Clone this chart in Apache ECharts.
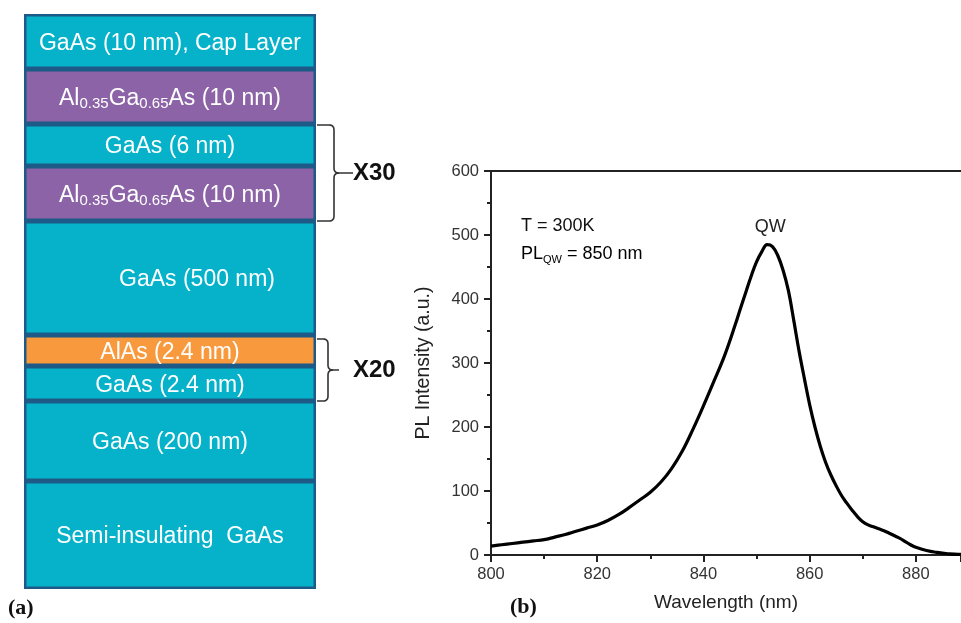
<!DOCTYPE html>
<html>
<head>
<meta charset="utf-8">
<script src="https://cdn.jsdelivr.net/npm/echarts@6/dist/echarts.min.js"></script>
<style>
  html, body { margin: 0; padding: 0; background: #fff; }
  #chart { width: 961px; height: 623px; }
</style>
</head>
<body>
<div id="chart"></div>
<script>
// ---------- (a) layer stack ----------
const layerLabels = [
  'GaAs (10 nm), Cap Layer',
  'Al_{0.35}Ga_{0.65}As (10 nm)',
  'GaAs (6 nm)',
  'Al_{0.35}Ga_{0.65}As (10 nm)',
  'GaAs (500 nm)',
  'AlAs (2.4 nm)',
  'GaAs (2.4 nm)',
  'GaAs (200 nm)',
  'Semi-insulating  GaAs'
];
const layerMaterials = ['GaAs', 'AlGaAs', 'GaAs', 'AlGaAs', 'GaAs', 'AlAs', 'GaAs', 'GaAs', 'GaAs'];
// drawn (schematic) thickness of each layer in the stack diagram
const layerDrawHeights = [55, 55, 42, 55, 114, 31, 35, 80, 108];
const repeatGroups = [
  { first: 2, last: 3, label: 'X30' },
  { first: 5, last: 6, label: 'X20' }
];

// ---------- (b) PL spectrum ----------
const wavelengths = [800, 802, 804, 806, 808, 810, 812, 814, 816, 818, 820, 822, 824, 826, 828, 830, 832, 834, 836, 838,
  840, 842, 844, 846, 847, 848, 849, 850, 851, 852, 853, 854, 855, 856, 857, 858, 859, 860, 861, 862, 863, 864, 865, 866,
  867, 868, 869, 870, 871, 872, 873, 874, 875, 876, 877, 878, 879, 880, 882, 884, 886, 888, 890];
const intensities = [14, 16, 18, 20, 22, 24, 28, 32, 37, 42, 47, 54, 63, 74, 86, 98, 114, 135, 162, 196,
  233, 272, 312, 360, 386, 411, 436, 458, 474, 485, 482, 468, 445, 413, 367, 319, 276, 235, 200, 170, 145, 125, 108, 93,
  81, 70, 60, 52, 47, 44, 41, 38, 34, 30, 26, 21, 16, 12, 7, 4, 2, 1, 1];
const xTicks = [800, 820, 840, 860, 880];
const yTicks = [0, 100, 200, 300, 400, 500, 600];

const materialColors = { GaAs: '#05b2ca', AlGaAs: '#8b63a6', AlAs: '#f8993d' };
const FONT = '"Liberation Sans", Arial, sans-serif';

function toRich(label) {
  const parts = [];
  const re = /_\{([^}]*)\}/g;
  let last = 0, m;
  while ((m = re.exec(label)) !== null) {
    if (m.index > last) parts.push('{n|' + label.slice(last, m.index) + '}');
    parts.push('{s|' + m[1] + '}');
    last = re.lastIndex;
  }
  if (last < label.length) parts.push('{n|' + label.slice(last) + '}');
  return parts.join('');
}

const totalDraw = layerDrawHeights.reduce((a, b) => a + b, 0);
const D_LEFT = 24, D_TOP = 14, D_WIDTH = 292, D_HEIGHT = 575;

const layerSeries = layerLabels.map((lab, i) => ({
  type: 'bar',
  name: 'layer' + i,
  stack: 'layers',
  xAxisIndex: 0,
  yAxisIndex: 0,
  barWidth: '100%',
  data: [layerDrawHeights[i]],
  itemStyle: { color: materialColors[layerMaterials[i]], borderColor: '#1d5a88', borderWidth: 2.5 },
  label: {
    show: true,
    position: 'inside',
    offset: i === 4 ? [27, 2] : [0, 2],
    formatter: () => toRich(lab),
    rich: {
      n: { fontSize: 23, color: '#fff', fontFamily: FONT, lineHeight: 26 },
      s: { fontSize: 15, color: '#fff', fontFamily: FONT, lineHeight: 8, verticalAlign: 'bottom' }
    }
  },
  silent: true,
  animation: false
}));

const chart = echarts.init(document.getElementById('chart'), null, { renderer: 'canvas' });

const axisColor = '#222';
const option = {
  animation: false,
  backgroundColor: '#fff',
  grid: [
    { left: D_LEFT, top: D_TOP, width: D_WIDTH, height: D_HEIGHT },
    { left: 491, top: 171, right: 0, height: 384 }
  ],
  xAxis: [
    { gridIndex: 0, type: 'category', data: ['stack'], show: false },
    {
      gridIndex: 1, type: 'value', min: 800, max: 888.5, interval: 20,
      name: 'Wavelength (nm)', nameLocation: 'middle', nameGap: 38,
      nameTextStyle: { fontSize: 19, color: '#222', fontFamily: FONT },
      axisLine: { show: true, onZero: false, lineStyle: { color: axisColor, width: 2 } },
      axisTick: { show: true, length: 7, lineStyle: { color: axisColor, width: 2 } },
      minorTick: { show: true, splitNumber: 2, length: 4, lineStyle: { color: axisColor, width: 2 } },
      axisLabel: {
        fontSize: 16.5, color: '#333', fontFamily: FONT, margin: 11, showMaxLabel: false,
        formatter: v => (xTicks.indexOf(v) >= 0 ? String(v) : '')
      },
      splitLine: { show: false }
    },
    {
      gridIndex: 1, type: 'value', min: 800, max: 888.5, position: 'top',
      axisLine: { show: true, onZero: false, lineStyle: { color: axisColor, width: 2 } },
      axisTick: { show: false }, axisLabel: { show: false }, splitLine: { show: false }
    }
  ],
  yAxis: [
    { gridIndex: 0, type: 'value', inverse: true, min: 0, max: totalDraw, show: false },
    {
      gridIndex: 1, type: 'value', min: 0, max: 600, interval: 100,
      name: 'PL Intensity (a.u.)', nameLocation: 'middle', nameGap: 57,
      nameTextStyle: { fontSize: 19.5, color: '#222', fontFamily: FONT },
      axisLine: { show: true, onZero: false, lineStyle: { color: axisColor, width: 2 } },
      axisTick: { show: true, length: 7, lineStyle: { color: axisColor, width: 2 } },
      minorTick: { show: true, splitNumber: 2, length: 4, lineStyle: { color: axisColor, width: 2 } },
      axisLabel: {
        fontSize: 16.5, color: '#333', fontFamily: FONT, margin: 12,
        formatter: v => (yTicks.indexOf(v) >= 0 ? String(v) : '')
      },
      splitLine: { show: false }
    }
  ],
  series: layerSeries.concat([{
    type: 'line',
    xAxisIndex: 1,
    yAxisIndex: 1,
    data: wavelengths.map((w, i) => [w, intensities[i]]),
    smooth: 0.4,
    symbol: 'none',
    clip: true,
    lineStyle: { color: '#000', width: 3.2 },
    silent: true
  }])
};
chart.setOption(option);

// ---------- annotations ----------
function layerBounds(idx) {
  let start = 0;
  for (let i = 0; i < idx; i++) start += layerDrawHeights[i];
  return [start, start + layerDrawHeights[idx]];
}
function quad(pts, p0, c, p1) {
  for (let k = 1; k <= 6; k++) {
    const t = k / 6, u = 1 - t;
    pts.push([u * u * p0[0] + 2 * u * t * c[0] + t * t * p1[0], u * u * p0[1] + 2 * u * t * c[1] + t * t * p1[1]]);
  }
}
const graphics = [];
const stackRight = D_LEFT + D_WIDTH;
repeatGroups.forEach((g, gi) => {
  const yTop = chart.convertToPixel({ yAxisIndex: 0 }, layerBounds(g.first)[0]) + (gi === 1 ? 4 : 1);
  const yBot = chart.convertToPixel({ yAxisIndex: 0 }, layerBounds(g.last)[1]);
  const yMid = (yTop + yBot) / 2;
  const x0 = stackRight + 1;
  const xv = gi === 0 ? 334 : 328;
  const xt = gi === 0 ? 353 : 339;
  const r = 5;
  const pts = [[x0, yTop], [xv - r, yTop]];
  quad(pts, [xv - r, yTop], [xv, yTop], [xv, yTop + r]);
  pts.push([xv, yMid - r]);
  quad(pts, [xv, yMid - r], [xv, yMid], [xv + r, yMid]);
  pts.push([xt, yMid]);
  const pts2 = [[xv + r, yMid]];
  quad(pts2, [xv + r, yMid], [xv, yMid], [xv, yMid + r]);
  pts2.push([xv, yBot - r]);
  quad(pts2, [xv, yBot - r], [xv, yBot], [xv - r, yBot]);
  pts2.push([x0, yBot]);
  [pts, pts2].forEach(p => graphics.push({
    type: 'polyline', shape: { points: p },
    style: { fill: null, stroke: '#333', lineWidth: 1.6 }
  }));
  graphics.push({
    type: 'text', x: 353, y: yMid,
    style: { text: g.label, font: 'bold 24px ' + FONT, fill: '#111', verticalAlign: 'middle' }
  });
});

const peakIdx = intensities.indexOf(Math.max.apply(null, intensities));
const peakPx = chart.convertToPixel({ xAxisIndex: 1, yAxisIndex: 1 }, [wavelengths[peakIdx], intensities[peakIdx]]);
graphics.push({
  type: 'text', x: peakPx[0] + 3, y: peakPx[1] - 18,
  style: { text: 'QW', font: '18px ' + FONT, fill: '#222', align: 'center', verticalAlign: 'middle' }
});
graphics.push({
  type: 'text', x: 521, y: 226,
  style: { text: 'T = 300K', font: '18px ' + FONT, fill: '#111', verticalAlign: 'middle' }
});
graphics.push({
  type: 'text', x: 521, y: 254,
  style: {
    text: '{n|PL}{s|QW}{n| = 850 nm}', verticalAlign: 'middle',
    rich: {
      n: { fontSize: 18, fontFamily: FONT, color: '#111', lineHeight: 22 },
      s: { fontSize: 11, fontFamily: FONT, color: '#111', lineHeight: 8, verticalAlign: 'bottom' }
    }
  }
});
graphics.push({
  type: 'text', x: 8, y: 608,
  style: { text: '(a)', font: 'bold 22px "Liberation Serif", "Times New Roman", serif', fill: '#111', verticalAlign: 'middle' }
});
graphics.push({
  type: 'text', x: 510, y: 607,
  style: { text: '(b)', font: 'bold 22px "Liberation Serif", "Times New Roman", serif', fill: '#111', verticalAlign: 'middle' }
});
chart.setOption({ graphic: graphics });
</script>
</body>
</html>
